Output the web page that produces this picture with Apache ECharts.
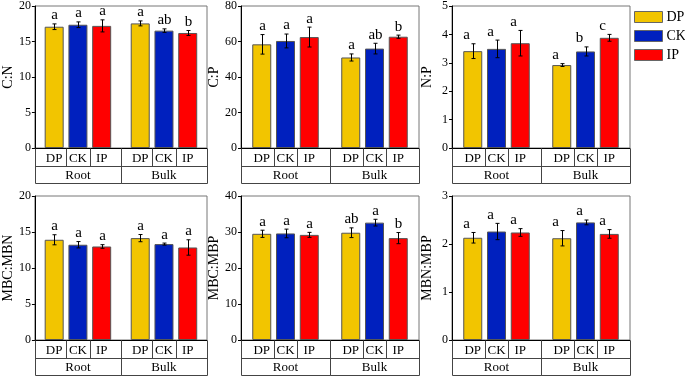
<!DOCTYPE html>
<html>
<head>
<meta charset="utf-8">
<script src="https://cdn.jsdelivr.net/npm/echarts@6/dist/echarts.min.js"></script>
<style>
  html, body { margin: 0; padding: 0; background: #fff; }
  #chart-container { width: 685px; height: 376px; }
</style>
</head>
<body>
<div id="chart-container"></div>
<script>
// order in every array: Root DP, CK, IP, then Bulk DP, CK, IP
var groups = ['Root', 'Bulk'];
var treatments = ['DP', 'CK', 'IP'];

var cnMean = [17.08, 17.36, 17.2, 17.55, 16.53, 16.2];
var cnSd = [0.4, 0.4, 0.85, 0.35, 0.25, 0.35];
var cnLetters = ['a', 'a', 'a', 'a', 'ab', 'b'];

var cpMean = [58.4, 60.3, 62.5, 51.0, 56.0, 62.7];
var cpSd = [5.5, 3.9, 5.6, 2.0, 3.0, 0.9];
var cpLetters = ['a', 'a', 'a', 'a', 'ab', 'b'];

var npMean = [3.41, 3.49, 3.69, 2.92, 3.40, 3.88];
var npSd = [0.26, 0.31, 0.45, 0.05, 0.16, 0.12];
var npLetters = ['a', 'a', 'a', 'a', 'b', 'c'];

var mbcMbnMean = [13.92, 13.23, 12.99, 14.15, 13.32, 12.85];
var mbcMbnSd = [0.7, 0.44, 0.25, 0.5, 0.14, 1.07];
var mbcMbnLetters = ['a', 'a', 'a', 'a', 'a', 'a'];

var mbcMbpMean = [29.5, 29.6, 29.2, 29.8, 32.6, 28.3];
var mbcMbpSd = [1.0, 1.2, 0.7, 1.35, 0.93, 1.55];
var mbcMbpLetters = ['a', 'a', 'a', 'ab', 'a', 'b'];

var mbnMbpMean = [2.13, 2.26, 2.24, 2.12, 2.45, 2.21];
var mbnMbpSd = [0.11, 0.17, 0.08, 0.16, 0.05, 0.09];
var mbnMbpLetters = ['a', 'a', 'a', 'a', 'a', 'a'];

var yMax = [20, 80, 5, 20, 40, 3];
var yStep = [5, 20, 1, 5, 10, 1];
var yNames = ['C:N', 'C:P', 'N:P', 'MBC:MBN', 'MBC:MBP', 'MBN:MBP'];

var colors = ['#F2C500', '#0020BE', '#FF0000'];
var serif = '"Liberation Serif", "Times New Roman", serif';

var panels = [
    { mean: cnMean, sd: cnSd, letters: cnLetters, shift: 0 },
    { mean: cpMean, sd: cpSd, letters: cpLetters, shift: 0 },
    { mean: npMean, sd: npSd, letters: npLetters, shift: -7 },
    { mean: mbcMbnMean, sd: mbcMbnSd, letters: mbcMbnLetters, shift: 0 },
    { mean: mbcMbpMean, sd: mbcMbpSd, letters: mbcMbpLetters, shift: 0 },
    { mean: mbnMbpMean, sd: mbnMbpSd, letters: mbnMbpLetters, shift: -7 }
];

var lefts = [29, 241, 452];
var tops = [4, 196];
var barW = 19;
var step = barW * 1.25;
var rowH = 17.5;

var dom = document.getElementById('chart-container');
var myChart = echarts.init(dom, null, { renderer: 'canvas' });

var grid = [], xAxis = [], yAxis = [], series = [];

panels.forEach(function (p, i) {
    grid.push({
        left: lefts[i % 3], top: tops[Math.floor(i / 3)], width: 178, height: 144,
        show: true, borderColor: '#777', borderWidth: 1
    });
    xAxis.push({
        type: 'category', gridIndex: i, data: groups,
        axisLine: { lineStyle: { color: '#000', width: 1 } },
        axisTick: { show: false }, axisLabel: { show: false }
    });
    yAxis.push({
        type: 'value', gridIndex: i, min: 0, max: yMax[i], interval: yStep[i],
        name: yNames[i], nameLocation: 'middle', nameGap: 18,
        nameTextStyle: { fontFamily: serif, fontSize: 14, color: '#000' },
        axisLine: { show: true, lineStyle: { color: '#000', width: 1 } },
        axisTick: { show: true, length: 3, lineStyle: { color: '#000' } },
        axisLabel: { fontFamily: serif, fontSize: 12, color: '#000', margin: 4 },
        splitLine: { show: false }
    });

    treatments.forEach(function (t, k) {
        series.push({
            name: t, type: 'bar', xAxisIndex: i, yAxisIndex: i,
            barWidth: barW, barGap: '25%',
            data: [p.mean[k], p.mean[3 + k]],
            itemStyle: { color: colors[k], borderColor: '#555', borderWidth: 1 }
        });
    });

    // error bars and significance letters
    var errData = [];
    for (var g = 0; g < 2; g++) {
        for (var k = 0; k < 3; k++) {
            errData.push([g, k, p.mean[g * 3 + k], p.sd[g * 3 + k]]);
        }
    }
    series.push({
        type: 'custom', xAxisIndex: i, yAxisIndex: i, z: 5,
        data: errData,
        renderItem: function (params, api) {
            var g = api.value(0), k = api.value(1), m = api.value(2), s = api.value(3);
            var c = api.coord([g, m]);
            var x = Math.round(c[0] + (k - 1) * step) + 0.5;
            var yt = api.coord([g, m + s])[1];
            var yb = api.coord([g, m - s])[1];
            var ls = { stroke: '#000', lineWidth: 1 };
            return {
                type: 'group',
                children: [
                    { type: 'line', shape: { x1: x, y1: yt, x2: x, y2: yb }, style: ls },
                    { type: 'line', shape: { x1: x - 2, y1: yt, x2: x + 2, y2: yt }, style: ls },
                    { type: 'line', shape: { x1: x - 2, y1: yb, x2: x + 2, y2: yb }, style: ls },
                    {
                        type: 'text',
                        style: {
                            text: p.letters[params.dataIndex], x: x + p.shift, y: yt - 1,
                            align: 'center', verticalAlign: 'bottom',
                            font: '15px ' + serif, fill: '#000'
                        }
                    }
                ]
            };
        }
    });

    // two-row table under the axis
    series.push({
        type: 'custom', xAxisIndex: i, yAxisIndex: i, z: 5,
        data: [[0, 0], [1, 0]],
        renderItem: function (params, api) {
            var g = api.value(0);
            var c = api.coord([g, 0]);
            var bw = api.size([1, 0])[0];
            var cx = c[0];
            var y0 = Math.round(c[1]) + 0.5;
            var y1 = Math.round(y0 + rowH) + 0.5;
            var y2 = Math.round(y0 + 2 * rowH) - 0.5;
            var xl = Math.round(cx - bw / 2) + 0.5;
            var xr = Math.round(cx + bw / 2) + 0.5;
            var d1 = Math.round(cx - step / 2) + 0.5;
            var d2 = Math.round(cx + step / 2) + 0.5;
            var ls = { stroke: '#444', lineWidth: 1 };
            var kids = [
                { type: 'line', shape: { x1: xl, y1: y1, x2: xr, y2: y1 }, style: ls },
                { type: 'line', shape: { x1: xl, y1: y2, x2: xr, y2: y2 }, style: ls },
                { type: 'line', shape: { x1: xl, y1: y0, x2: xl, y2: y2 }, style: ls },
                { type: 'line', shape: { x1: xr, y1: y0, x2: xr, y2: y2 }, style: ls },
                { type: 'line', shape: { x1: d1, y1: y0, x2: d1, y2: y1 }, style: ls },
                { type: 'line', shape: { x1: d2, y1: y0, x2: d2, y2: y1 }, style: ls },
                {
                    type: 'text',
                    style: {
                        text: groups[g], x: cx, y: (y1 + y2) / 2 + 1,
                        align: 'center', verticalAlign: 'middle',
                        font: '13px ' + serif, fill: '#000'
                    }
                }
            ];
            treatments.forEach(function (t, k) {
                kids.push({
                    type: 'text',
                    style: {
                        text: t, x: cx + (k - 1) * step, y: (y0 + y1) / 2 + 1,
                        align: 'center', verticalAlign: 'middle',
                        font: '13px ' + serif, fill: '#000'
                    }
                });
            });
            return { type: 'group', children: kids };
        }
    });
});

var option = {
    animation: false,
    legend: {
        data: treatments, orient: 'vertical', left: 634, top: 10,
        itemWidth: 28, itemHeight: 11, itemGap: 5, padding: 0,
        icon: 'rect',
        itemStyle: { borderColor: '#666', borderWidth: 1 },
        textStyle: { fontFamily: serif, fontSize: 14, color: '#000', padding: [0, 0, 0, -1] }
    },
    grid: grid,
    xAxis: xAxis,
    yAxis: yAxis,
    series: series
};

if (option && typeof option === 'object') {
    myChart.setOption(option);
}

window.addEventListener('resize', myChart.resize);
</script>
</body>
</html>
